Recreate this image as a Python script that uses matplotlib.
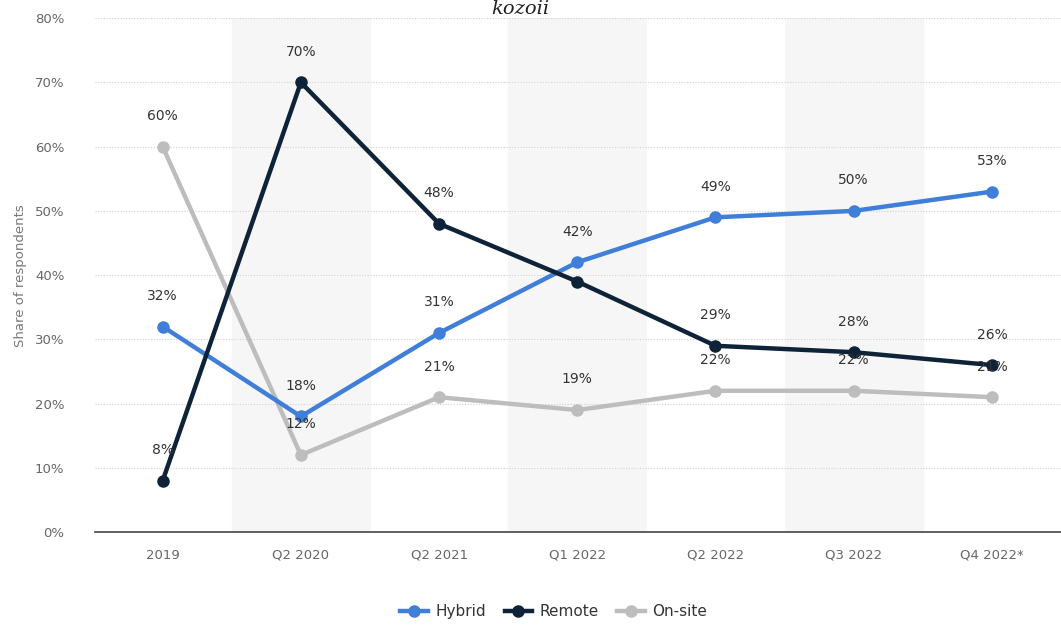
import matplotlib.pyplot as plt
import numpy as np

categories = ["2019", "Q2 2020", "Q2 2021", "Q1 2022", "Q2 2022", "Q3 2022", "Q4 2022*"]
hybrid = [32, 18, 31, 42, 49, 50, 53]
remote = [8, 70, 48, 39, 29, 28, 26]
onsite = [60, 12, 21, 19, 22, 22, 21]
yticks = [0, 10, 20, 30, 40, 50, 60, 70, 80]
# the reference shows no value label for Remote at Q1 2022
hidden_labels = {("Remote", "Q1 2022")}

fig = plt.figure(figsize=(10.61, 6.26), dpi=100)
ax = fig.add_axes([0.0895, 0.150, 0.9105, 0.821])

x = np.arange(len(categories))

# alternating shaded bands
for i in x:
    if i % 2 == 1:
        ax.axvspan(i - 0.5, i + 0.5, color="#f6f6f6", zorder=0)

series = [
    ("On-site", onsite, "#bdbdbd"),
    ("Hybrid", hybrid, "#3f7fd9"),
    ("Remote", remote, "#0e2238"),
]
lines = {}
for name, vals, col in series:
    ln, = ax.plot(x, vals, color=col, lw=3.2, marker="o", ms=8, label=name, zorder=3)
    lines[name] = ln
    for xi, v in zip(x, vals):
        if (name, categories[xi]) in hidden_labels:
            continue
        ax.annotate(f"{v}%", (xi, v), xytext=(0, 22), textcoords="offset points",
                    ha="center", va="center", fontsize=10, color="#333333", zorder=4)

ax.set_xlim(-0.49, 6.5)
ax.set_ylim(0, 80)
ax.set_yticks(yticks)
ax.set_yticklabels([f"{t}%" for t in yticks])
ax.set_xticks(x)
ax.set_xticklabels(categories)
ax.tick_params(axis="both", length=0, colors="#666666", labelsize=9.5)
ax.tick_params(axis="x", pad=12)
ax.tick_params(axis="y", pad=22)
ax.grid(axis="y", ls=(0, (1, 1.5)), color="#d0d0d0", lw=0.8, zorder=1)
ax.set_axisbelow(True)
for s in ["top", "right", "left"]:
    ax.spines[s].set_visible(False)
ax.spines["bottom"].set_color("#444444")
ax.spines["bottom"].set_linewidth(1.2)
ax.set_ylabel("Share of respondents", color="#777777", fontsize=9.5, labelpad=6)

ax.legend([lines["Hybrid"], lines["Remote"], lines["On-site"]],
          ["Hybrid", "Remote", "On-site"], loc="center", bbox_to_anchor=(0.475, -0.155),
          ncol=3, frameon=False, fontsize=11, handlelength=1.8, columnspacing=1.2,
          handletextpad=0.5, labelcolor="#333333")

fig.text(0.49, 1.0, "kozoii", family="DejaVu Serif", style="italic", fontsize=14,
         ha="center", va="top", color="#222222")

fig.savefig("out.png", dpi=100)
